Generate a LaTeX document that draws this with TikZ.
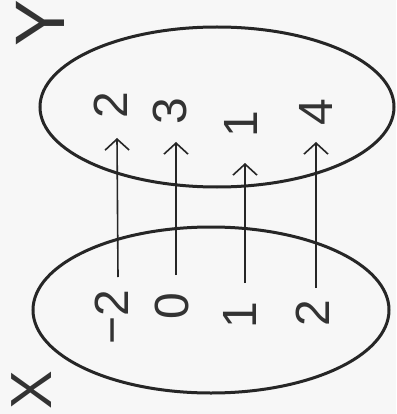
\documentclass[tikz,border=0pt]{standalone}
\usepackage{fontspec}
\setmainfont{Liberation Sans}
\usetikzlibrary{arrows.meta,calc}
\tikzset{
  setline/.style={line width=3pt, draw=black!85},
  arr/.style={line width=1.6pt, draw=black!85, -{Straight Barb[length=11pt,width=24pt,line width=1.6pt]}},
  num/.style={rotate=90, inner sep=0pt, font=\fontsize{48}{48}\selectfont, text=black!80},
  lab/.style={rotate=90, inner sep=0pt, text=black!80}
}
\begin{document}
\begin{tikzpicture}[x=1pt,y=-1pt]
\fill[gray!6] (0,0) rectangle (396,414);
\useasboundingbox (0,0) rectangle (396,414);
% sets
\draw[setline] (217,107) ellipse (177 and 80);
\draw[setline] (211,310) ellipse (178 and 83);
% labels
\node[lab, font=\fontsize{70}{70}\selectfont] (Y) at (40,23) {Y};
\node[lab, font=\fontsize{58}{58}\selectfont] (X) at (32,390) {X};
% Y elements
\node[num] (t1) at (111,105) {2};
\node[num] (t2) at (170,111) {3};
\node[num] (t3) at (241,124) {1};
\node[num] (t4) at (316,112) {4};
% X elements
\node[num] (b1) at (112,317) {−2};
\node[num] (b2) at (172,306) {0};
\node[num] (b3) at (240,315) {1};
\node[num] (b4) at (313,313) {2};
% mapping
\draw[arr] ($(b1)+(6,-40)$) -- ($(t1)+(6,33)$);
\draw[arr] ($(b2)+(4,-31)$) -- ($(t2)+(6,31)$);
\draw[arr] ($(b3)+(5,-32)$) -- ($(t3)+(4,39)$);
\draw[arr] ($(b4)+(3,-25)$) -- ($(t4)+(0,30)$);
\end{tikzpicture}
\end{document}
